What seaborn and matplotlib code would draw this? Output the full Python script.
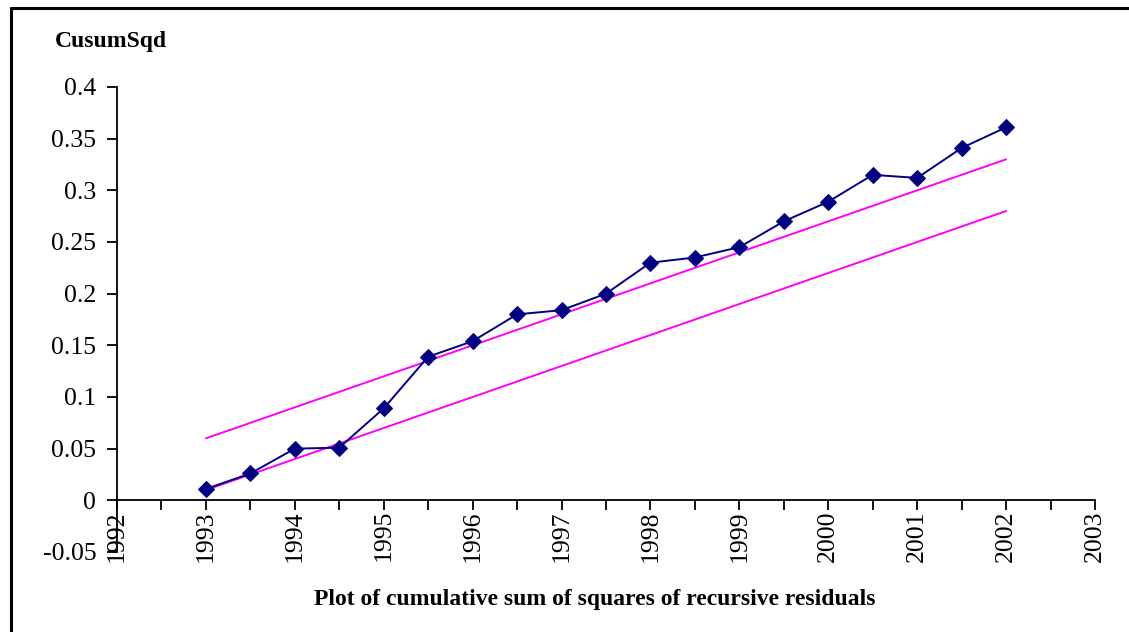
import matplotlib
matplotlib.use("Agg")
import matplotlib.pyplot as plt
from matplotlib.lines import Line2D
from matplotlib.ticker import MultipleLocator
import seaborn as sns
import pandas as pd

sns.set_theme(style="white")
plt.rcParams['font.family'] = ['Liberation Serif', 'DejaVu Serif']
plt.rcParams['text.color'] = 'black'
plt.rcParams['xtick.color'] = 'black'
plt.rcParams['ytick.color'] = 'black'

# half-year observation points
years = [1993, 1993.5, 1994, 1994.5, 1995, 1995.5, 1996, 1996.5, 1997, 1997.5,
         1998, 1998.5, 1999, 1999.5, 2000, 2000.5, 2001, 2001.5, 2002]
cusum_sq = [0.011, 0.026, 0.050, 0.051, 0.089, 0.139, 0.154, 0.180, 0.184, 0.200,
            0.230, 0.235, 0.245, 0.270, 0.289, 0.315, 0.312, 0.341, 0.361]
upper_band = [0.060, 0.075, 0.090, 0.105, 0.120, 0.135, 0.150, 0.165, 0.180, 0.195,
              0.210, 0.225, 0.240, 0.255, 0.270, 0.285, 0.300, 0.315, 0.330]
lower_band = [0.010, 0.025, 0.040, 0.055, 0.070, 0.085, 0.100, 0.115, 0.130, 0.145,
              0.160, 0.175, 0.190, 0.205, 0.220, 0.235, 0.250, 0.265, 0.280]
year_ticks = list(range(1992, 2004))
y_ticks = [-0.05, 0, 0.05, 0.1, 0.15, 0.2, 0.25, 0.3, 0.35, 0.4]
y_labels = ['-0.05', '0', '0.05', '0.1', '0.15', '0.2', '0.25', '0.3', '0.35', '0.4']

df = pd.DataFrame({'year': years, 'cusum': cusum_sq,
                   'upper': upper_band, 'lower': lower_band})

fig = plt.figure(figsize=(11.29, 6.32), dpi=100)
ax = fig.add_axes([117 / 1129, 1 - 552 / 632, (1095 - 117) / 1129, (552 - 87) / 632])

sns.lineplot(data=df, x='year', y='upper', ax=ax, color='#FF00FF', linewidth=1.4, estimator=None)
sns.lineplot(data=df, x='year', y='lower', ax=ax, color='#FF00FF', linewidth=1.4, estimator=None)
sns.lineplot(data=df, x='year', y='cusum', ax=ax, color='#000080', linewidth=1.4,
             marker='D', markersize=8.5, markeredgecolor='#000080', estimator=None)

# spine position first: moving it resets the tick settings
ax.spines['top'].set_visible(False)
ax.spines['right'].set_visible(False)
ax.spines['bottom'].set_position(('data', 0))
for s in ('left', 'bottom'):
    ax.spines[s].set_color('black')
    ax.spines[s].set_linewidth(1.3)

ax.set_xlim(1992, 2003)
ax.set_ylim(-0.05, 0.4)
ax.set_xticks(year_ticks)
ax.set_xticklabels([str(y) for y in year_ticks], rotation=90, fontsize=18.5)
ax.xaxis.set_minor_locator(MultipleLocator(0.5))
ax.set_yticks(y_ticks)
ax.set_yticklabels(y_labels, fontsize=18.5)
ax.set_xlabel('')
ax.set_ylabel('')

ax.tick_params(axis='x', which='both', direction='out', length=7, width=1.3,
               color='black', pad=0, bottom=True)
ax.tick_params(axis='y', direction='out', length=7, width=1.3, color='black', pad=8, left=True)

fig.text(55 / 1129, 1 - 41 / 632, 'CusumSqd', fontsize=17, fontweight='bold', va='center')
fig.text(595 / 1129, 1 - 599 / 632, 'Plot of cumulative sum of squares of recursive residuals',
         fontsize=17, fontweight='bold', ha='center', va='center')

# frame around the chart (left and top edges visible)
fig.add_artist(Line2D([11 / 1129, 11 / 1129], [0, 1 - 8 / 632], color='black', linewidth=2.2))
fig.add_artist(Line2D([11 / 1129, 1], [1 - 8 / 632, 1 - 8 / 632], color='black', linewidth=2.2))

fig.savefig('out.png', dpi=100)
